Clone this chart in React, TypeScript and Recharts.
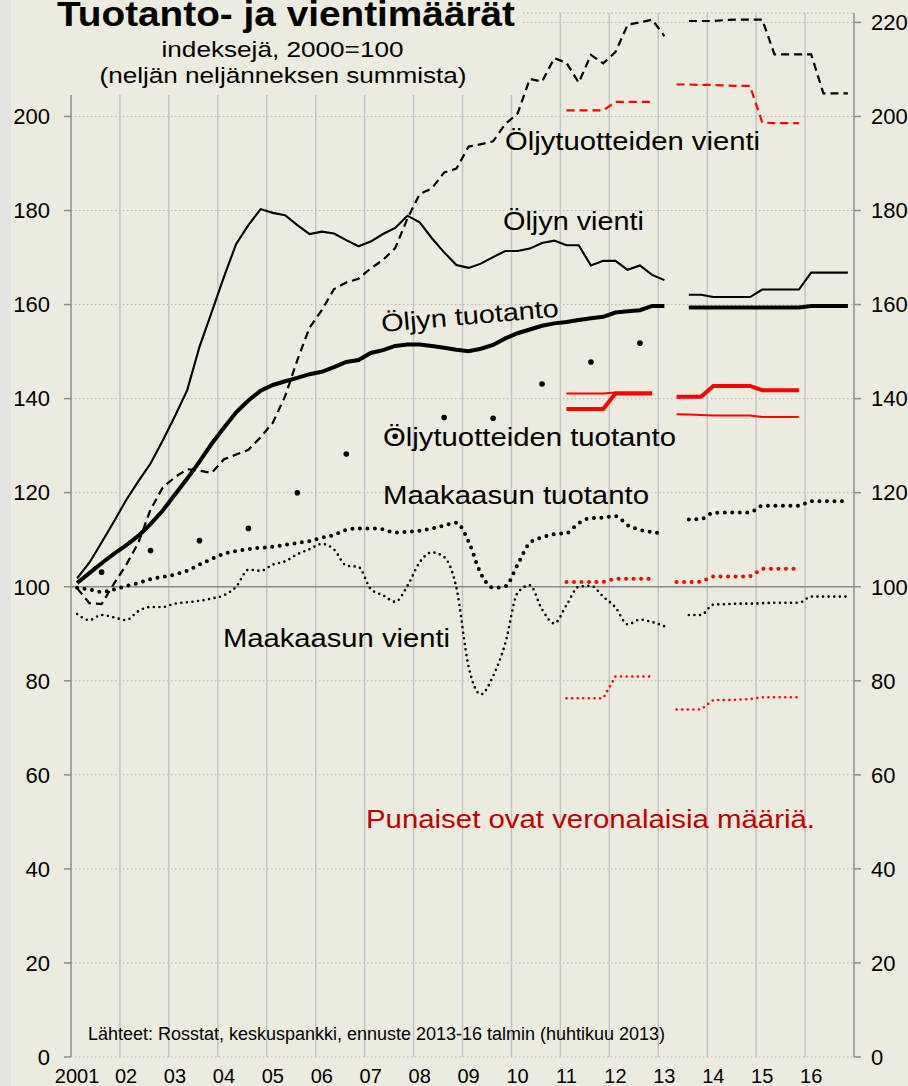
import React from "react";
import {
  ComposedChart,
  Line,
  XAxis,
  YAxis,
  CartesianGrid,
  ReferenceLine,
} from "recharts";

const FONT = "'Liberation Sans', Arial, sans-serif";
const BG = "#ecebe0";
const RED = "#ff0000";

// x axis: quarters 2001Q1 .. 2016Q4, labels at first quarter of every year
const YEAR_LABELS = ["2001", "02", "03", "04", "05", "06", "07", "08", "09", "10", "11", "12", "13", "14", "15", "16"];
const Y_TICKS = [0, 20, 40, 60, 80, 100, 120, 140, 160, 180, 200, 220];

// history 2001Q1..2013Q1, forecast 2013Q3..2016Q4
const HIST_START = 0;
const FC_START = 50;
// taxable volumes (red): 2011Q1..2012Q4 and 2013Q2..2015Q4
const RED_HIST_START = 40;
const RED_FC_START = 49;

const oljynVienti = [
  101.8, 105.1, 109.4, 113.8, 118.4, 122.4, 126.2, 131.1, 136.3, 141.8,
  151.0, 158.4, 165.9, 172.9, 176.9, 180.3, 179.5, 179.0, 176.9, 175.0,
  175.5, 175.1, 173.7, 172.4, 173.4, 175.0, 176.3, 178.9, 177.5, 174.1,
  171.1, 168.4, 167.8, 168.7, 170.1, 171.4, 171.4, 171.9, 173.1, 173.6,
  172.6, 172.6, 168.3, 169.3, 169.3, 167.4, 168.3, 166.3, 165.2,
];
const oljynVientiEnnuste = [162.1, 162.1, 161.6, 161.6, 161.6, 161.6, 163.2, 163.2, 163.2, 163.2, 166.8, 166.8, 166.8, 166.8];

const oljynTuotanto = [
  100.8, 102.9, 105.0, 107.0, 108.8, 110.8, 113.3, 116.2, 119.6, 123.0,
  126.6, 130.4, 133.8, 137.1, 139.6, 141.7, 142.9, 143.7, 144.4, 145.2,
  145.7, 146.7, 147.8, 148.2, 149.7, 150.3, 151.2, 151.5, 151.5, 151.2,
  150.8, 150.4, 150.1, 150.6, 151.4, 152.8, 153.9, 154.7, 155.5, 156.0,
  156.3, 156.7, 157.1, 157.4, 158.3, 158.6, 158.8, 159.7, 159.7,
];
const oljynTuotantoEnnuste = [159.4, 159.4, 159.4, 159.4, 159.4, 159.4, 159.4, 159.4, 159.4, 159.4, 159.7, 159.7, 159.7, 159.7];

const tuotteidenVienti = [
  99.7, 96.5, 96.3, 100.6, 104.6, 109.3, 116.4, 121.1, 123.3, 125.0,
  124.7, 124.2, 127.1, 128.1, 129.1, 131.8, 134.9, 140.5, 148.2, 155.1,
  158.8, 163.3, 164.7, 165.5, 167.7, 169.5, 172.0, 178.3, 183.5, 184.7,
  188.1, 188.9, 193.6, 194.1, 194.7, 198.4, 200.6, 208.0, 207.4, 212.4,
  211.4, 207.2, 213.1, 211.3, 213.7, 219.5, 220.0, 220.6, 217.1,
];
const tuotteidenVientiEnnuste = [220.3, 220.3, 220.3, 220.5, 220.6, 220.6, 220.6, 213.2, 213.2, 213.2, 213.2, 204.9, 204.9, 204.9];

const kaasunTuotanto = [
  99.8, 99.4, 98.9, 99.4, 100.1, 100.8, 101.6, 102.1, 102.6, 103.4,
  104.7, 105.9, 107.0, 107.6, 108.0, 108.3, 108.5, 108.9, 109.3, 109.7,
  110.4, 111.0, 112.1, 112.4, 112.4, 112.2, 111.5, 111.7, 111.9, 112.4,
  113.0, 113.6, 109.6, 102.8, 99.8, 100.1, 104.7, 109.3, 110.5, 111.2,
  111.4, 113.5, 114.6, 114.7, 115.0, 113.1, 112.1, 111.6, 111.4,
];
const kaasunTuotantoEnnuste = [114.3, 114.4, 115.7, 115.8, 115.8, 115.8, 117.2, 117.2, 117.2, 117.2, 118.2, 118.2, 118.2, 118.2];

const kaasunVienti = [
  94.2, 92.9, 94.0, 93.5, 92.9, 94.8, 95.7, 95.7, 96.4, 96.7,
  97.0, 97.5, 98.2, 100.0, 103.6, 103.4, 104.7, 105.4, 106.9, 108.0,
  109.1, 107.9, 104.5, 104.2, 99.5, 98.2, 96.8, 100.2, 105.2, 107.3,
  106.3, 99.8, 83.0, 77.1, 81.0, 88.0, 98.7, 100.3, 95.2, 92.2,
  96.1, 100.0, 100.2, 97.9, 95.6, 92.0, 93.0, 92.5, 91.6,
];
const kaasunVientiEnnuste = [94.0, 94.0, 96.2, 96.3, 96.4, 96.4, 96.5, 96.6, 96.6, 96.6, 97.9, 97.9, 97.9, 97.9];

// annual, shown at Q3 of 2001..2012
const tuotteidenTuotanto = [103.1, 107.7, 109.8, 112.4, 120.0, 128.2, 132.0, 136.0, 135.8, 143.1, 147.8, 151.8];

// taxable (red)
const verTuotteidenVienti = [201.3, 201.3, 201.3, 201.3, 203.1, 203.1, 203.1, 203.1];
const verTuotteidenVientiEnnuste = [206.8, 206.8, 206.7, 206.7, 206.6, 206.5, 206.5, 198.7, 198.6, 198.6, 198.6];
const verOljynTuotanto = [137.8, 137.8, 137.8, 137.8, 141.1, 141.1, 141.1, 141.1];
const verOljynTuotantoEnnuste = [140.4, 140.4, 140.4, 142.7, 142.7, 142.7, 142.7, 141.8, 141.8, 141.8, 141.8];
const verOljynVienti = [141.1, 141.1, 141.1, 141.1, 141.3, 141.3, 141.3, 141.3];
const verOljynVientiEnnuste = [136.7, 136.6, 136.5, 136.4, 136.4, 136.4, 136.4, 136.1, 136.1, 136.1, 136.1];
const verKaasunTuotanto = [101.0, 101.0, 101.0, 101.0, 101.7, 101.7, 101.7, 101.7];
const verKaasunTuotantoEnnuste = [101.0, 101.0, 101.1, 102.2, 102.2, 102.2, 102.2, 103.8, 103.8, 103.8, 103.8];
const verKaasunVienti = [76.3, 76.3, 76.3, 76.3, 80.9, 80.9, 80.9, 80.9];
const verKaasunVientiEnnuste = [73.9, 73.9, 73.9, 75.9, 75.9, 76.0, 76.1, 76.5, 76.5, 76.5, 76.5];

type Row = { i: number; [key: string]: number | null };

const QUARTERS = YEAR_LABELS.length * 4;
const data: Row[] = Array.from({ length: QUARTERS }, (_, i) => ({ i }));

function put(key: string, values: number[], start: number, step = 1) {
  values.forEach((v, k) => {
    data[start + k * step][key] = v;
  });
}

put("oljynVienti", oljynVienti, HIST_START);
put("oljynVienti", oljynVientiEnnuste, FC_START);
put("oljynTuotanto", oljynTuotanto, HIST_START);
put("oljynTuotanto", oljynTuotantoEnnuste, FC_START);
put("tuotteidenVienti", tuotteidenVienti, HIST_START);
put("tuotteidenVienti", tuotteidenVientiEnnuste, FC_START);
put("kaasunTuotanto", kaasunTuotanto, HIST_START);
put("kaasunTuotanto", kaasunTuotantoEnnuste, FC_START);
put("kaasunVienti", kaasunVienti, HIST_START);
put("kaasunVienti", kaasunVientiEnnuste, FC_START);
put("tuotteidenTuotanto", tuotteidenTuotanto, 2, 4);
put("verTuotteidenVienti", verTuotteidenVienti, RED_HIST_START);
put("verTuotteidenVienti", verTuotteidenVientiEnnuste, RED_FC_START);
put("verOljynTuotanto", verOljynTuotanto, RED_HIST_START);
put("verOljynTuotanto", verOljynTuotantoEnnuste, RED_FC_START);
put("verOljynVienti", verOljynVienti, RED_HIST_START);
put("verOljynVienti", verOljynVientiEnnuste, RED_FC_START);
put("verKaasunTuotanto", verKaasunTuotanto, RED_HIST_START);
put("verKaasunTuotanto", verKaasunTuotantoEnnuste, RED_FC_START);
put("verKaasunVienti", verKaasunVienti, RED_HIST_START);
put("verKaasunVienti", verKaasunVientiEnnuste, RED_FC_START);

const labelTicks = YEAR_LABELS.map((_, k) => k * 4);
const yearBounds = YEAR_LABELS.slice(1).map((_, k) => (k + 1) * 4 - 0.5);

const axisStroke = { stroke: "#8c8c8c", strokeWidth: 1.5 };
const tickText = { fill: "#000", fontSize: 22, fontFamily: FONT };

const thickDots = { strokeWidth: 4, strokeDasharray: "0 7.5", strokeLinecap: "round" as const };
const thinDots = { strokeWidth: 2.6, strokeDasharray: "0 5.6", strokeLinecap: "round" as const };

function series(key: string, color: string, extra: Record<string, unknown>, type: "linear" | "monotone" = "linear") {
  return (
    <Line
      key={key}
      yAxisId="left"
      dataKey={key}
      type={type}
      stroke={color}
      dot={false}
      activeDot={false}
      connectNulls={false}
      isAnimationActive={false}
      {...extra}
    />
  );
}

const textStyle = { fontFamily: FONT, fill: "#000" };

export default function App() {
  return (
    <div style={{ position: "absolute", left: 0, top: 0, width: 908, height: 1086, background: BG, overflow: "hidden" }}>
      <div style={{ position: "absolute", left: 0, top: 0, width: 11, height: 1086, background: "#e3e4e2" }} />
      <div style={{ position: "absolute", left: 0, top: 0 }}>
        <ComposedChart width={908} height={1086} data={data} margin={{ top: 13, right: 0, bottom: 0, left: 0 }}>
          <CartesianGrid yAxisId="left" vertical={false} stroke="#b9b9b9" strokeDasharray="1.5 2.5" />
          {yearBounds.map((b) => (
            <ReferenceLine key={b} x={b} yAxisId="left" stroke="#c4c4c4" strokeWidth={1.5} />
          ))}
          <ReferenceLine y={100} yAxisId="left" stroke="#8c8c8c" strokeWidth={1.5} />
          <XAxis
            dataKey="i"
            type="number"
            domain={[-0.5, QUARTERS - 0.5]}
            ticks={labelTicks}
            interval={0}
            tickFormatter={(v: number) => YEAR_LABELS[Math.round(v / 4)]}
            height={29}
            tickLine={false}
            axisLine={false}
            tickSize={6}
            tickMargin={6}
            tick={{ fill: "#000", fontSize: 20, fontFamily: FONT }}
          />
          <YAxis
            yAxisId="left"
            type="number"
            domain={[0, 222]}
            allowDataOverflow
            ticks={Y_TICKS}
            interval={0}
            width={71}
            tickSize={7}
            tickMargin={14}
            axisLine={axisStroke}
            tickLine={axisStroke}
            tick={tickText}
          />
          <YAxis
            yAxisId="right"
            orientation="right"
            type="number"
            domain={[0, 222]}
            allowDataOverflow
            ticks={Y_TICKS}
            interval={0}
            width={54}
            tickSize={7}
            tickMargin={10}
            axisLine={axisStroke}
            tickLine={axisStroke}
            tick={{ ...tickText, textAnchor: "start" }}
          />

          {series("kaasunVienti", "#000", thinDots, "monotone")}
          {series("kaasunTuotanto", "#000", thickDots, "monotone")}
          {series("verKaasunVienti", RED, thinDots)}
          {series("verKaasunTuotanto", RED, thickDots)}
          {series("tuotteidenVienti", "#000", { strokeWidth: 2.2, strokeDasharray: "8 5" })}
          {series("verTuotteidenVienti", RED, { strokeWidth: 2.2, strokeDasharray: "8 5" })}
          {series("oljynVienti", "#000", { strokeWidth: 2.1 })}
          {series("oljynTuotanto", "#000", { strokeWidth: 4 })}
          {series("verOljynVienti", RED, { strokeWidth: 2 })}
          {series("verOljynTuotanto", RED, { strokeWidth: 4 })}
          <Line
            yAxisId="left"
            dataKey="tuotteidenTuotanto"
            stroke="none"
            dot={{ r: 2.8, fill: "#000", stroke: "none" }}
            activeDot={false}
            isAnimationActive={false}
          />
        </ComposedChart>
      </div>

      {/* title box hides the grid behind it */}
      <div style={{ position: "absolute", left: 11, top: 0, width: 511, height: 95, background: BG }} />

      <svg width={908} height={1086} style={{ position: "absolute", left: 0, top: 0, pointerEvents: "none" }}>
        <g style={textStyle}>
          <text x={286} y={26} textAnchor="middle" fontSize={35} fontWeight="bold" textLength={458} lengthAdjust="spacingAndGlyphs">
            Tuotanto- ja vientimäärät
          </text>
          <text x={282.5} y={57} textAnchor="middle" fontSize={22} textLength={242} lengthAdjust="spacingAndGlyphs">
            indeksejä, 2000=100
          </text>
          <text x={283} y={83} textAnchor="middle" fontSize={22} textLength={367} lengthAdjust="spacingAndGlyphs">
            (neljän neljänneksen summista)
          </text>
          <text x={505} y={150} fontSize={25} textLength={255} lengthAdjust="spacingAndGlyphs">
            Öljytuotteiden vienti
          </text>
          <text x={503} y={230} fontSize={25} textLength={141} lengthAdjust="spacingAndGlyphs">
            Öljyn vienti
          </text>
          <text x={382} y={332} fontSize={25} textLength={178} lengthAdjust="spacingAndGlyphs" transform="rotate(-5 382 332)">
            Öljyn tuotanto
          </text>
          <text x={383} y={446} fontSize={25} textLength={293} lengthAdjust="spacingAndGlyphs">
            Öljytuotteiden tuotanto
          </text>
          <text x={383} y={504} fontSize={25} textLength={266} lengthAdjust="spacingAndGlyphs">
            Maakaasun tuotanto
          </text>
          <text x={223} y={647} fontSize={25} textLength={227} lengthAdjust="spacingAndGlyphs">
            Maakaasun vienti
          </text>
          <text x={366} y={828} fontSize={25} textLength={449} lengthAdjust="spacingAndGlyphs" style={{ fill: "#c00000" }}>
            Punaiset ovat veronalaisia määriä.
          </text>
          <text x={88} y={1040} fontSize={18} textLength={577} lengthAdjust="spacingAndGlyphs">
            Lähteet: Rosstat, keskuspankki, ennuste 2013-16 talmin (huhtikuu 2013)
          </text>
        </g>
      </svg>
    </div>
  );
}
